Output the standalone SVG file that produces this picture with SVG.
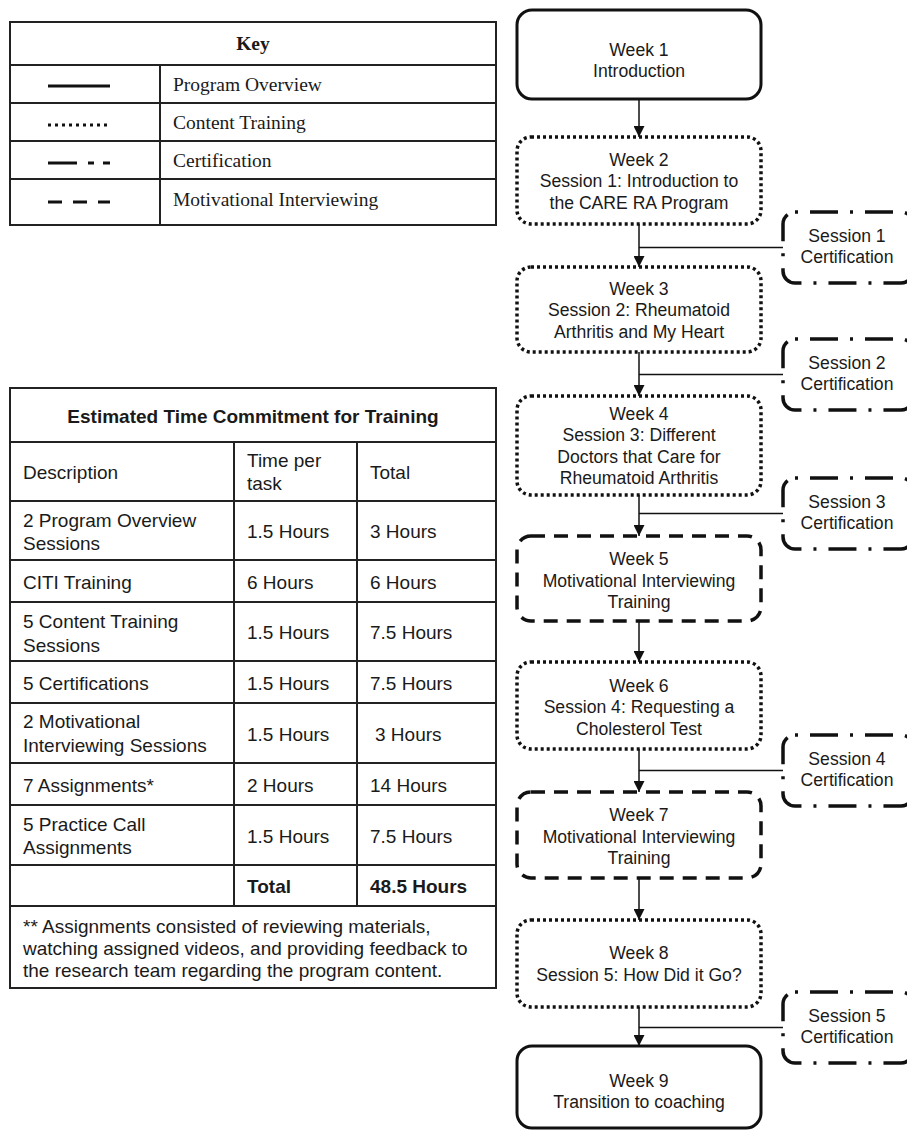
<svg xmlns="http://www.w3.org/2000/svg" width="907" height="1131" viewBox="0 0 907 1131">
<defs>
<style>
.bg{fill:#ffffff}
.tbl{fill:none;stroke:#222;stroke-width:2}
.grid{stroke:#222;stroke-width:2}
.serif{font-family:"Liberation Serif","Times New Roman",serif;font-size:19.5px;fill:#1a1a1a}
.sans{font-family:"Liberation Sans",Arial,sans-serif;font-size:19px;fill:#1a1a1a}
.b{font-weight:bold}
.node{font-family:"Liberation Sans",Arial,sans-serif;font-size:17.6px;fill:#1a1a1a;text-anchor:middle}
.solid{fill:#fff;stroke:#111;stroke-width:3}
.dotted{fill:#fff;stroke:#111;stroke-width:3.5;stroke-dasharray:3 3}
.dashed{fill:#fff;stroke:#111;stroke-width:3.5;stroke-dasharray:14 9}
.dashdot{fill:#fff;stroke:#111;stroke-width:3.5;stroke-dasharray:3 12 28 12}
.conn{stroke:#111;stroke-width:1.5;fill:none}
</style>
<marker id="arr" markerUnits="userSpaceOnUse" markerWidth="12" markerHeight="12" refX="5" refY="10" orient="auto-start-reverse" viewBox="0 0 10 10">
<path d="M0,0 L10,0 L5,10 Z" fill="#111" transform="rotate(-90 5 5)"/>
</marker>
<marker id="ah" markerUnits="userSpaceOnUse" markerWidth="11" markerHeight="11" refX="10" refY="5" orient="auto" viewBox="0 0 10 10">
<path d="M0,0 L10,5 L0,10 Z" fill="#111"/>
</marker>
</defs>
<rect class="bg" x="0" y="0" width="907" height="1131"/>

<!-- Key table -->
<g id="key">
<rect class="tbl" x="10" y="22" width="486" height="203"/>
<line class="grid" x1="10" y1="65" x2="496" y2="65"/>
<line class="grid" x1="10" y1="103" x2="496" y2="103"/>
<line class="grid" x1="10" y1="141" x2="496" y2="141"/>
<line class="grid" x1="10" y1="179" x2="496" y2="179"/>
<line class="grid" x1="160" y1="65" x2="160" y2="225"/>
<text class="serif b" x="253" y="50" text-anchor="middle">Key</text>
<line x1="48" y1="86" x2="110" y2="86" stroke="#111" stroke-width="3"/>
<line x1="48" y1="125" x2="110" y2="125" stroke="#111" stroke-width="3" stroke-dasharray="3 4"/>
<path d="M48,163 H77 M88,163 H94 M103,163 H110" stroke="#111" stroke-width="3" fill="none"/>
<path d="M48,202 H62 M73,202 H87 M98,202 H110" stroke="#111" stroke-width="3" fill="none"/>
<text class="serif" x="173" y="91">Program Overview</text>
<text class="serif" x="173" y="129">Content Training</text>
<text class="serif" x="173" y="167">Certification</text>
<text class="serif" x="173" y="206">Motivational Interviewing</text>
</g>

<!-- Time commitment table -->
<g id="time-table">
<rect class="tbl" x="10" y="388" width="486" height="600"/>
<line class="grid" x1="10" y1="442" x2="496" y2="442"/>
<line class="grid" x1="10" y1="501" x2="496" y2="501"/>
<line class="grid" x1="10" y1="560" x2="496" y2="560"/>
<line class="grid" x1="10" y1="602" x2="496" y2="602"/>
<line class="grid" x1="10" y1="661" x2="496" y2="661"/>
<line class="grid" x1="10" y1="703" x2="496" y2="703"/>
<line class="grid" x1="10" y1="763" x2="496" y2="763"/>
<line class="grid" x1="10" y1="805" x2="496" y2="805"/>
<line class="grid" x1="10" y1="865" x2="496" y2="865"/>
<line class="grid" x1="10" y1="906" x2="496" y2="906"/>
<line class="grid" x1="234" y1="442" x2="234" y2="906"/>
<line class="grid" x1="357" y1="442" x2="357" y2="906"/>
<text class="sans b" x="253" y="423" text-anchor="middle">Estimated Time Commitment for Training</text>
<text class="sans" x="23" y="479">Description</text>
<text class="sans" x="247" y="467">Time per</text>
<text class="sans" x="247" y="490">task</text>
<text class="sans" x="370" y="479">Total</text>
<text class="sans" x="23" y="527">2 Program Overview</text>
<text class="sans" x="23" y="550">Sessions</text>
<text class="sans" x="247" y="538">1.5 Hours</text>
<text class="sans" x="370" y="538">3 Hours</text>
<text class="sans" x="23" y="589">CITI Training</text>
<text class="sans" x="247" y="589">6 Hours</text>
<text class="sans" x="370" y="589">6 Hours</text>
<text class="sans" x="23" y="628">5 Content Training</text>
<text class="sans" x="23" y="652">Sessions</text>
<text class="sans" x="247" y="639">1.5 Hours</text>
<text class="sans" x="370" y="639">7.5 Hours</text>
<text class="sans" x="23" y="690">5 Certifications</text>
<text class="sans" x="247" y="690">1.5 Hours</text>
<text class="sans" x="370" y="690">7.5 Hours</text>
<text class="sans" x="23" y="728">2 Motivational</text>
<text class="sans" x="23" y="752">Interviewing Sessions</text>
<text class="sans" x="247" y="741">1.5 Hours</text>
<text class="sans" x="375" y="741">3 Hours</text>
<text class="sans" x="23" y="792">7 Assignments*</text>
<text class="sans" x="247" y="792">2 Hours</text>
<text class="sans" x="370" y="792">14 Hours</text>
<text class="sans" x="23" y="831">5 Practice Call</text>
<text class="sans" x="23" y="854">Assignments</text>
<text class="sans" x="247" y="843">1.5 Hours</text>
<text class="sans" x="370" y="843">7.5 Hours</text>
<text class="sans b" x="247" y="893">Total</text>
<text class="sans b" x="370" y="893">48.5 Hours</text>
<text class="sans" x="23" y="933">** Assignments consisted of reviewing materials,</text>
<text class="sans" x="23" y="955">watching assigned videos, and providing feedback to</text>
<text class="sans" x="23" y="977">the research team regarding the program content.</text>
</g>

<!-- Connectors -->
<g id="connectors">
<line class="conn" x1="639" y1="99" x2="639" y2="137" marker-end="url(#ah)"/>
<line class="conn" x1="639" y1="224" x2="639" y2="267" marker-end="url(#ah)"/>
<line class="conn" x1="639" y1="352" x2="639" y2="396" marker-end="url(#ah)"/>
<line class="conn" x1="639" y1="495" x2="639" y2="536" marker-end="url(#ah)"/>
<line class="conn" x1="639" y1="621" x2="639" y2="662" marker-end="url(#ah)"/>
<line class="conn" x1="639" y1="749" x2="639" y2="792" marker-end="url(#ah)"/>
<line class="conn" x1="639" y1="878" x2="639" y2="920" marker-end="url(#ah)"/>
<line class="conn" x1="639" y1="1007" x2="639" y2="1046" marker-end="url(#ah)"/>
<line class="conn" x1="639" y1="247.5" x2="783" y2="247.5"/>
<line class="conn" x1="639" y1="374.5" x2="783" y2="374.5"/>
<line class="conn" x1="639" y1="513.5" x2="783" y2="513.5"/>
<line class="conn" x1="639" y1="770.5" x2="783" y2="770.5"/>
<line class="conn" x1="639" y1="1027.5" x2="783" y2="1027.5"/>
</g>

<!-- Week nodes -->
<g id="week1">
<rect class="solid" x="517" y="10" width="244" height="89" rx="15"/>
<text class="node" x="639" y="56">Week 1</text>
<text class="node" x="639" y="77">Introduction</text>
</g>
<g id="week2">
<rect class="dotted" x="517" y="137" width="244" height="87" rx="14"/>
<text class="node" x="639" y="166">Week 2</text>
<text class="node" x="639" y="187">Session 1: Introduction to</text>
<text class="node" x="639" y="209">the CARE RA Program</text>
</g>
<g id="week3">
<rect class="dotted" x="517" y="267" width="244" height="85" rx="14"/>
<text class="node" x="639" y="295">Week 3</text>
<text class="node" x="639" y="316">Session 2: Rheumatoid</text>
<text class="node" x="639" y="338">Arthritis and My Heart</text>
</g>
<g id="week4">
<rect class="dotted" x="517" y="396" width="244" height="99" rx="14"/>
<text class="node" x="639" y="420">Week 4</text>
<text class="node" x="639" y="441">Session 3: Different</text>
<text class="node" x="639" y="463">Doctors that Care for</text>
<text class="node" x="639" y="484">Rheumatoid Arthritis</text>
</g>
<g id="week5">
<rect class="dashed" x="517" y="536" width="244" height="85" rx="14"/>
<text class="node" x="639" y="565">Week 5</text>
<text class="node" x="639" y="587">Motivational Interviewing</text>
<text class="node" x="639" y="608">Training</text>
</g>
<g id="week6">
<rect class="dotted" x="517" y="662" width="244" height="87" rx="14"/>
<text class="node" x="639" y="692">Week 6</text>
<text class="node" x="639" y="713">Session 4: Requesting a</text>
<text class="node" x="639" y="735">Cholesterol Test</text>
</g>
<g id="week7">
<rect class="dashed" x="517" y="792" width="244" height="86" rx="14"/>
<text class="node" x="639" y="821">Week 7</text>
<text class="node" x="639" y="843">Motivational Interviewing</text>
<text class="node" x="639" y="864">Training</text>
</g>
<g id="week8">
<rect class="dotted" x="517" y="920" width="244" height="87" rx="14"/>
<text class="node" x="639" y="959">Week 8</text>
<text class="node" x="639" y="981">Session 5: How Did it Go?</text>
</g>
<g id="week9">
<rect class="solid" x="517" y="1046" width="244" height="82" rx="15"/>
<text class="node" x="639" y="1087">Week 9</text>
<text class="node" x="639" y="1108">Transition to coaching</text>
</g>

<!-- Certification nodes -->
<g id="cert1">
<rect class="dashdot" x="783" y="212" width="130" height="71" rx="12"/>
<text class="node" x="847" y="242">Session 1</text>
<text class="node" x="847" y="263">Certification</text>
</g>
<g id="cert2">
<rect class="dashdot" x="783" y="339" width="130" height="71" rx="12"/>
<text class="node" x="847" y="369">Session 2</text>
<text class="node" x="847" y="390">Certification</text>
</g>
<g id="cert3">
<rect class="dashdot" x="783" y="478" width="130" height="71" rx="12"/>
<text class="node" x="847" y="508">Session 3</text>
<text class="node" x="847" y="529">Certification</text>
</g>
<g id="cert4">
<rect class="dashdot" x="783" y="735" width="130" height="71" rx="12"/>
<text class="node" x="847" y="765">Session 4</text>
<text class="node" x="847" y="786">Certification</text>
</g>
<g id="cert5">
<rect class="dashdot" x="783" y="992" width="130" height="71" rx="12"/>
<text class="node" x="847" y="1022">Session 5</text>
<text class="node" x="847" y="1043">Certification</text>
</g>
</svg>
